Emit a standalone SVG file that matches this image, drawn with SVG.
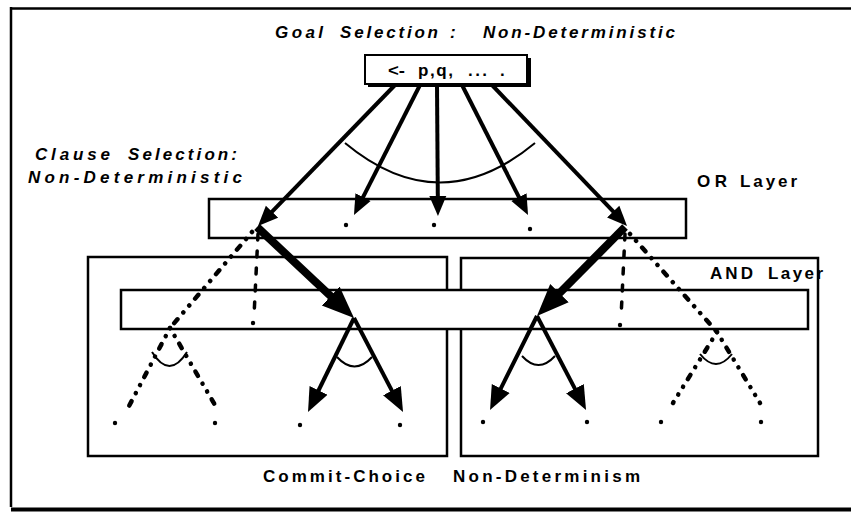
<svg xmlns="http://www.w3.org/2000/svg" width="851" height="514" viewBox="0 0 851 514">
<style>
.box{fill:#fff;stroke:#000;stroke-width:2.5}
.lbl{font-family:"Liberation Sans",Arial,sans-serif;font-weight:bold;font-size:17px;fill:#000}
.it{font-style:italic}
.arr{stroke:#000;stroke-width:4;fill:none}
.thick{stroke:#000;stroke-width:8;fill:none}
.dot{stroke:#000;stroke-width:4.5;fill:none;stroke-linecap:round;stroke-dasharray:0.1 9 0.1 9 5 9}
.vd{stroke:#000;stroke-width:3.5;fill:none;stroke-linecap:round;stroke-dasharray:6 11}
.arc{stroke:#000;stroke-width:2;fill:none}
.pt{fill:#000}
</style>
<defs>
<marker id="hS" markerUnits="userSpaceOnUse" viewBox="0 -9 20 18" markerWidth="20" markerHeight="18" refX="12" refY="0" orient="auto"><path d="M0,-8.5 L20,0 L0,8.5 Z" fill="#000"/></marker>
<marker id="hM" markerUnits="userSpaceOnUse" viewBox="0 -11 24 22" markerWidth="24" markerHeight="22" refX="14" refY="0" orient="auto"><path d="M0,-10 L24,0 L0,10 Z" fill="#000"/></marker>
<marker id="hL" markerUnits="userSpaceOnUse" viewBox="0 -14 32 28" markerWidth="32" markerHeight="28" refX="18" refY="0" orient="auto"><path d="M0,-13 L32,0 L0,13 Z" fill="#000"/></marker>
</defs>
<rect width="851" height="514" fill="#fff"/>
<g id="frame">
<path d="M11,7 V507" stroke="#000" stroke-width="2.5" fill="none"/>
<path d="M10,8.5 H851" stroke="#000" stroke-width="2.5" fill="none"/>
<path d="M11,509.5 H851" stroke="#000" stroke-width="4" fill="none"/>
</g>
<g id="and-left"><rect class="box" x="88" y="257" width="359" height="199"/></g>
<g id="and-right"><rect class="box" x="461" y="258" width="357" height="198"/></g>
<g id="and-layer"><rect class="box" x="121" y="290" width="687" height="39"/></g>
<g id="or-layer"><rect class="box" x="209" y="199" width="477" height="39"/></g>
<g id="goal">
<rect x="368" y="58" width="163" height="29" fill="#000"/>
<rect x="365" y="55" width="162" height="29" fill="#fff" stroke="#000" stroke-width="2"/>
<text class="lbl" x="388" y="76" textLength="17" lengthAdjust="spacingAndGlyphs">&lt;-</text>
<text class="lbl" x="418" y="76" textLength="35" lengthAdjust="spacing">p,q,</text>
<text class="lbl" x="468" y="76" textLength="19" lengthAdjust="spacing">...</text>
<text class="lbl" x="500" y="76">.</text>
</g>
<g id="connectors">
<path class="arr" d="M395,85 L263.6,220.3" marker-end="url(#hS)"/>
<path class="arr" d="M420,85 L357.6,207.9" marker-end="url(#hS)"/>
<path class="arr" d="M437,85 L437.9,208" marker-end="url(#hS)"/>
<path class="arr" d="M462,85 L524.4,207.9" marker-end="url(#hS)"/>
<path class="arr" d="M492,85 L621.5,220.2" marker-end="url(#hS)"/>
<path class="arc" d="M345,143 Q440,222 535,143"/>
<path class="thick" d="M257,227 L343.8,308.4" marker-end="url(#hL)"/>
<path class="thick" d="M625,227 L546.8,306" marker-end="url(#hL)"/>
<path class="arr" d="M354,318 L312.4,403" marker-end="url(#hM)"/>
<path class="arr" d="M354,318 L398.4,403.1" marker-end="url(#hM)"/>
<path class="arc" d="M337,357 Q354.5,376 372,357"/>
<path class="arr" d="M537,316 L494.5,401.1" marker-end="url(#hM)"/>
<path class="arr" d="M537,316 L581.4,401.1" marker-end="url(#hM)"/>
<path class="arc" d="M522,356 Q538.5,374 555,356"/>
<path class="dot" d="M252,232 L170,328"/>
<path class="dot" d="M170,328 L128,408"/>
<path class="dot" d="M170,328 L215,405"/>
<path class="arc" d="M152,352 Q169.5,380 187,352"/>
<path class="vd" d="M258,234 L254,316"/>
<path class="dot" d="M630,234 L717,332"/>
<path class="dot" d="M717,332 L673,403"/>
<path class="dot" d="M717,332 L760,403"/>
<path class="arc" d="M700,354 Q716,374 732,354"/>
<path class="vd" d="M625,234 L621,318"/>
</g>
<g id="points">
<circle class="pt" cx="346" cy="225" r="2.2"/>
<circle class="pt" cx="434" cy="225" r="2.2"/>
<circle class="pt" cx="530" cy="229" r="2.2"/>
<circle class="pt" cx="253" cy="323" r="2.2"/>
<circle class="pt" cx="620" cy="325" r="2.2"/>
<circle class="pt" cx="115" cy="423" r="2.2"/>
<circle class="pt" cx="215" cy="423" r="2.2"/>
<circle class="pt" cx="300" cy="425" r="2.2"/>
<circle class="pt" cx="400" cy="425" r="2.2"/>
<circle class="pt" cx="483" cy="422" r="2.2"/>
<circle class="pt" cx="587" cy="422" r="2.2"/>
<circle class="pt" cx="661" cy="422" r="2.2"/>
<circle class="pt" cx="761" cy="422" r="2.2"/>
</g>
<g id="labels">
<text class="lbl it" x="275" y="38" textLength="48" lengthAdjust="spacing">Goal</text>
<text class="lbl it" x="340" y="38" textLength="98" lengthAdjust="spacing">Selection</text>
<text class="lbl it" x="450" y="38">:</text>
<text class="lbl it" x="483" y="38" textLength="192" lengthAdjust="spacing">Non-Deterministic</text>
<text class="lbl it" x="35" y="160" textLength="75" lengthAdjust="spacing">Clause</text>
<text class="lbl it" x="128" y="160" textLength="109" lengthAdjust="spacing">Selection:</text>
<text class="lbl it" x="28" y="183" textLength="214" lengthAdjust="spacing">Non-Deterministic</text>
<text class="lbl" x="697" y="187" textLength="30" lengthAdjust="spacing">OR</text>
<text class="lbl" x="740" y="187" textLength="57" lengthAdjust="spacing">Layer</text>
<text class="lbl" x="710" y="279" textLength="43" lengthAdjust="spacing">AND</text>
<text class="lbl" x="768" y="279" textLength="55" lengthAdjust="spacing">Layer</text>
<text class="lbl" x="263" y="482" textLength="162" lengthAdjust="spacing">Commit-Choice</text>
<text class="lbl" x="453" y="482" textLength="187" lengthAdjust="spacing">Non-Determinism</text>
</g>
</svg>
